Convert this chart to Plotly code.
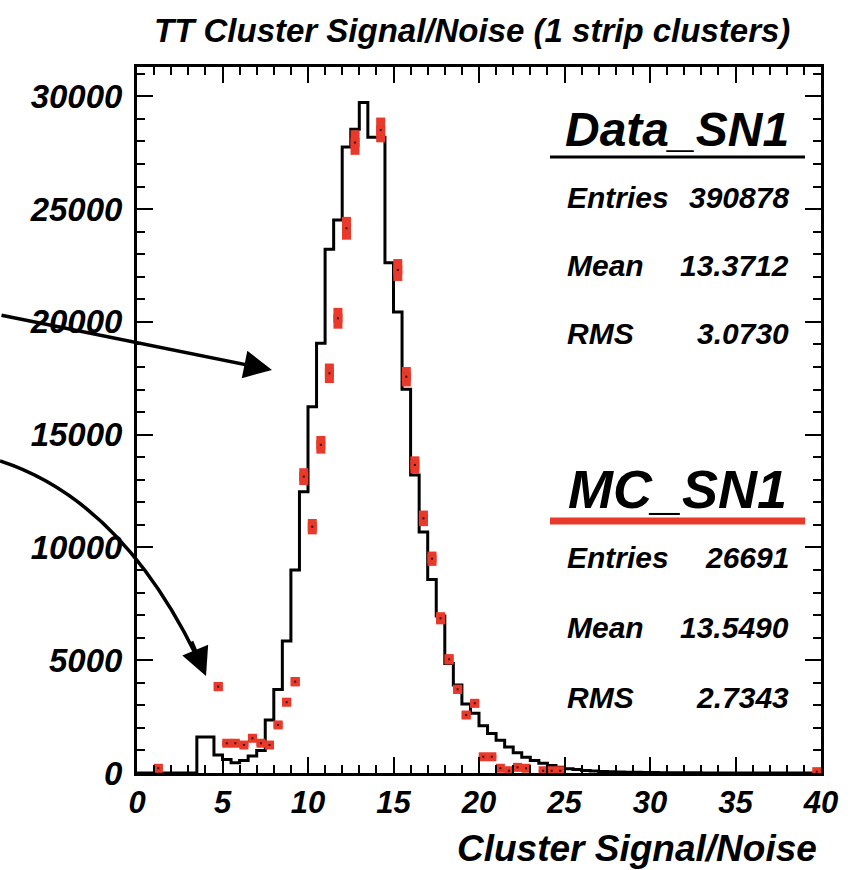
import numpy as np
import plotly.graph_objects as go

# ---------------- data ----------------
bin_width = 0.5
x_min, x_max = 0.0, 40.0
bin_edges = np.arange(x_min, x_max + bin_width / 2, bin_width)          # 81 edges
bin_centers = (bin_edges[:-1] + bin_edges[1:]) / 2                       # 80 centres

# Data histogram (black line), one value per 0.5-wide bin from 0 to 40
data_sn1 = [
    0, 0, 0, 0, 0, 0, 0, 1600, 1600, 800,              # 0.0 - 5.0
    600, 450, 550, 750, 1000, 2350, 3700, 5850, 9000, 12470,   # 5.0 - 10.0
    16240, 19050, 23220, 24520, 27750, 28540, 29730, 28190, 28190, 22620,  # 10 - 15
    20440, 17010, 13210, 10680, 8580, 6960, 4860, 3900, 3060, 2650,  # 15 - 20
    2100, 1750, 1450, 1150, 900, 700, 550, 430, 330, 250,   # 20 - 25
    190, 150, 115, 90, 70, 55, 45, 35, 28, 22,              # 25 - 30
    18, 14, 11, 9, 7, 6, 5, 4, 3, 3,                        # 30 - 35
    2, 2, 1, 1, 1, 1, 1, 1, 1, 1,                           # 35 - 40
]

# MC histogram (red points), None = empty bin; bins above the axis range are off-scale
mc_sn1 = [
    None, None, 210, None, None, None, None, None, None, 3830,
    1320, 1320, 1240, 1540, 1320, 1240, 2130, 3140, 4050, 13140,
    10920, 14550, 17720, 20160, 24150, 27950, 33000, 33500, 28510, 32800,
    22300, 17570, 13660, 11290, 9500, 6860, 5040, 3710, 2570, 3090,
    720, 720, 210, 100, 250, 210, None, 100, 100, 100,
    None, None, None, None, None, None, None, None, None, None,
    None, None, None, None, None, None, None, None, None, None,
    None, None, None, None, None, None, None, None, None, 60,
]

data_stats = {"name": "Data_SN1", "Entries": "390878", "Mean": "13.3712", "RMS": "3.0730"}
mc_stats = {"name": "MC_SN1", "Entries": "26691", "Mean": "13.5490", "RMS": "2.7343"}

data_entries = 390878
mc_entries = 26691
mc_scale = data_entries / mc_entries
mc_err = [0.85 * np.sqrt(v * mc_scale) if v is not None else 0 for v in mc_sn1]

RED = "#e8392a"
FONT = "Liberation Sans"

fig = go.Figure()

# data: step histogram
fig.add_trace(go.Scatter(
    x=list(bin_edges),
    y=data_sn1 + [data_sn1[-1]],
    mode="lines",
    line=dict(color="black", width=3, shape="hv"),
    showlegend=False,
    hoverinfo="skip",
))

# MC: red error boxes
fig.add_trace(go.Scatter(
    x=list(bin_centers),
    y=mc_sn1,
    mode="markers",
    marker=dict(symbol="square", size=9, color=RED, line=dict(width=0)),
    error_y=dict(type="data", array=mc_err, visible=True, color=RED,
                 thickness=9, width=0),
    showlegend=False,
))
fig.add_trace(go.Scatter(
    x=list(bin_centers),
    y=mc_sn1,
    mode="markers",
    marker=dict(symbol="square", size=2, color="#3a0a05"),
    showlegend=False,
    hoverinfo="skip",
))

axis_common = dict(
    showline=True, linewidth=3, linecolor="black",
    mirror="allticks", ticks="inside", ticklen=16, tickwidth=2, tickcolor="black",
    showgrid=False, zeroline=False,
)

fig.update_xaxes(
    range=[x_min, x_max], dtick=5, tick0=0, tickformat="d",
    minor=dict(dtick=1, ticks="inside", ticklen=8, tickwidth=2, tickcolor="black"),
    tickfont=dict(family=FONT, size=31, color="black", style="italic", weight="bold"),
    **axis_common,
)
fig.update_yaxes(
    range=[0, 31300], dtick=5000, tick0=0, tickformat="d",
    minor=dict(dtick=1000, ticks="inside", ticklen=8, tickwidth=2, tickcolor="black"),
    tickfont=dict(family=FONT, size=33, color="black", style="italic", weight="bold"),
    ticklabelstandoff=5,
    **axis_common,
)

L, R, T, B = 137, 33, 67, 97
W, H = 854, 870
PW, PH = W - L - R, H - T - B


def px(xp):
    return (xp - L) / PW


def py(yp):
    return (H - B - yp) / PH


annotations = []
shapes = []

# Title
annotations.append(dict(
    x=px(472), y=py(31), xref="paper", yref="paper", xanchor="center", yanchor="middle",
    text="TT Cluster Signal/Noise (1 strip clusters)", showarrow=False,
    font=dict(family=FONT, size=33, color="black", style="italic", weight="bold"),
))
# x-axis title
annotations.append(dict(
    x=px(819), y=py(848), xref="paper", yref="paper", xanchor="right", yanchor="middle",
    text="Cluster Signal/Noise", showarrow=False,
    font=dict(family=FONT, size=37, color="black", style="italic", weight="bold"),
))


def stats_box(stats, name_size, y_name, y_line, ys, line_color, line_w):
    annotations.append(dict(
        x=px(677), y=py(y_name), xref="paper", yref="paper", xanchor="center", yanchor="middle",
        text=stats["name"], showarrow=False,
        font=dict(family=FONT, size=name_size, color="black", style="italic", weight="bold"),
    ))
    shapes.append(dict(type="line", xref="paper", yref="paper",
                       x0=px(550), x1=px(805), y0=py(y_line), y1=py(y_line),
                       line=dict(color=line_color, width=line_w)))
    for key, yy in zip(["Entries", "Mean", "RMS"], ys):
        annotations.append(dict(
            x=px(565), y=py(yy), xref="paper", yref="paper", xanchor="left", yanchor="middle",
            text=key, showarrow=False,
            font=dict(family=FONT, size=30, color="black", style="italic", weight="bold"),
        ))
        annotations.append(dict(
            x=px(791), y=py(yy), xref="paper", yref="paper", xanchor="right", yanchor="middle",
            text=stats[key], showarrow=False,
            font=dict(family=FONT, size=30, color="black", style="italic", weight="bold"),
        ))


stats_box(data_stats, 48, 130, 157, [197, 265, 333], "black", 3)
stats_box(mc_stats, 54, 489, 521, [557, 627, 697], RED, 7)

# straight arrow
annotations.append(dict(
    x=px(272), y=py(370), xref="paper", yref="paper",
    ax=-272, ay=-55, axref="pixel", ayref="pixel",
    text="", showarrow=True, arrowhead=2, arrowsize=1.6, arrowwidth=3.5, arrowcolor="black",
))
# curved arrow
shapes.append(dict(
    type="path", xref="paper", yref="paper",
    path=f"M {px(0)},{py(461)} Q {px(120)},{py(500)} {px(196)},{py(655)}",
    line=dict(color="black", width=3.5),
))
annotations.append(dict(
    x=px(206), y=py(676), xref="paper", yref="paper",
    ax=-15, ay=-36, axref="pixel", ayref="pixel",
    text="", showarrow=True, arrowhead=2, arrowsize=1.6, arrowwidth=3.5, arrowcolor="black",
))

fig.update_layout(
    width=W, height=H,
    margin=dict(l=L, r=R, t=T, b=B),
    paper_bgcolor="white", plot_bgcolor="white",
    annotations=annotations, shapes=shapes,
    showlegend=False,
)

fig.write_html("out.html")
